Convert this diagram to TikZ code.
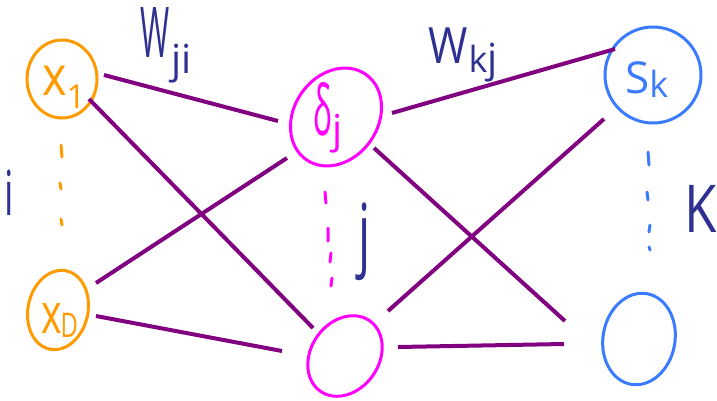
\documentclass[tikz,border=0pt]{standalone}
\usepackage{fontspec}
\setmainfont{Open Sans}
\usetikzlibrary{shapes.geometric}
\definecolor{navyink}{HTML}{2E3192}
\definecolor{orangeink}{HTML}{FF9A00}
\definecolor{magentaink}{HTML}{FF00FF}
\definecolor{blueink}{HTML}{3A7BFF}
\definecolor{purpleink}{HTML}{800080}
\newcommand\handsize[1]{\fontsize{#1}{#1}\selectfont}
\newcommand\narrow[2]{\scalebox{#1}[1]{#2}}
\tikzset{
  neuron/.style={ellipse, draw, line width=3pt, inner sep=0pt},
  wire/.style={draw=purpleink, line width=4pt},
  dotstroke/.style={line width=3pt, line cap=round},
  hand/.style={inner sep=0pt, anchor=base west},
}
\begin{document}
\begin{tikzpicture}[x=1pt,y=-1pt]
\useasboundingbox (0,0) rectangle (717,400);

% input layer
\node[neuron, draw=orangeink, minimum width=70pt, minimum height=78pt] (x1) at (62,79) {};
\node[neuron, draw=orangeink, minimum width=60pt, minimum height=80pt, rotate=-12] (xD) at (58,310) {};
% hidden layer
\node[neuron, draw=magentaink, minimum width=104pt, minimum height=84pt, rotate=55] (dj) at (336,117) {};
\node[neuron, draw=magentaink, minimum width=86pt, minimum height=68pt, rotate=55] (hb) at (345,356) {};
% output layer
\node[neuron, draw=blueink, minimum width=96pt, minimum height=96pt] (sk) at (653,75) {};
\node[neuron, draw=blueink, minimum width=72pt, minimum height=92pt, rotate=-10] (ob) at (639,339) {};

% neuron labels
\node[hand, text=orangeink] (lx1) at (42,95)
  {\narrow{0.85}{\handsize{55}x}\kern0pt\raisebox{-13pt}{\handsize{33}1}};
\node[hand, text=orangeink] (lxD) at (41,333)
  {\narrow{0.7}{\handsize{56}x}\kern-1pt\raisebox{-4pt}{\narrow{0.7}{\handsize{34}D}}};
\node[hand, text=magentaink] (ldj) at (313,135)
  {\narrow{0.45}{\handsize{70}δ}\kern1pt\raisebox{-8pt}{\handsize{40}j}};
\node[hand, text=blueink] (lsk) at (625,93)
  {\handsize{44}S\raisebox{-4pt}{\handsize{36}k}};

% connections input -> hidden
\draw[wire] ([shift={(42,-4)}]x1.center) -- ([shift={(-58,4)}]dj.center);
\draw[wire] ([shift={(27,20)}]x1.center) -- ([shift={(-32,-28)}]hb.center);
\draw[wire] ([shift={(38,-27)}]xD.center) -- ([shift={(-49,41)}]dj.center);
\draw[wire] ([shift={(38,6)}]xD.center) -- ([shift={(-63,-5)}]hb.center);
% connections hidden -> output
\draw[wire] ([shift={(56,-4)}]dj.center) -- ([shift={(-38,-26)}]sk.center);
\draw[wire] ([shift={(38,31)}]dj.center) -- ([shift={(-74,-18)}]ob.center);
\draw[wire] ([shift={(43,-45)}]hb.center) -- ([shift={(-49,44)}]sk.center);
\draw[wire] ([shift={(53,-9)}]hb.center) -- ([shift={(-75,5)}]ob.center);

% elided neurons
\draw[dotstroke, orangeink] (61,145) -- (62,157) (60,183) -- (61,189) (61,219) -- (62,225);
\draw[dotstroke, magentaink] (325,192) -- (326,203) (328,228) -- (328,241)
  (331,253) -- (330,262) (332,278) -- (331,286);
\draw[dotstroke, blueink] (648,152) -- (649,165) (647,192) -- (648,200)
  (650,225) -- (649,232) (649,247) -- (650,250);

% weight and index labels
\node[hand, text=navyink] (wji) at (140,73)
  {\raisebox{16pt}{\narrow{0.45}{\handsize{70}W}}\kern2pt{\handsize{40}ji}};
\node[hand, text=navyink] (wkj) at (428,72)
  {\raisebox{9pt}{\narrow{0.85}{\handsize{50}W}}\kern1pt{\handsize{36}k}{\handsize{40}j}};
\node[hand, text=navyink] (li) at (4,215) {\narrow{0.6}{\handsize{62}i}};
\node[hand, text=navyink] (lj) at (358,261) {\narrow{0.6}{\handsize{80}j}};
\node[hand, text=navyink] (lk) at (684,232) {\narrow{0.8}{\handsize{66}K}};
\end{tikzpicture}
\end{document}
